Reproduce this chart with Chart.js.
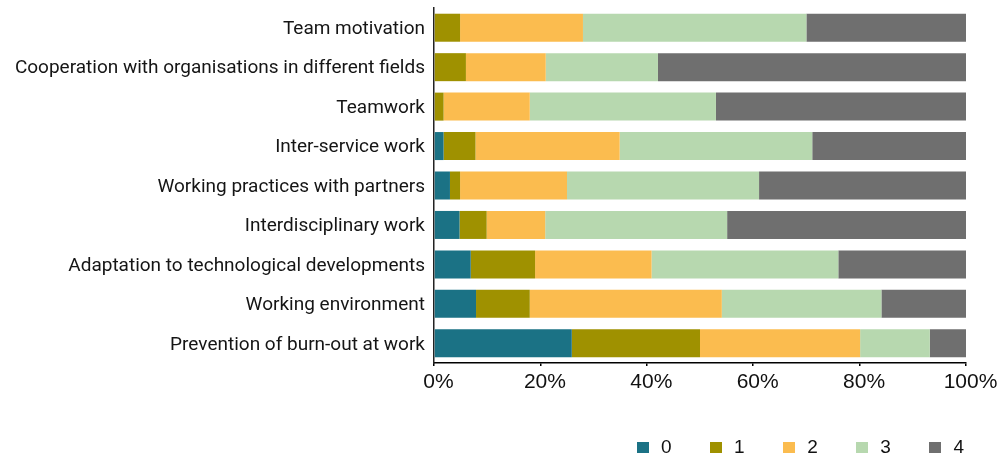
<!DOCTYPE html>
<html><head><meta charset="utf-8">
<script src="https://cdn.jsdelivr.net/npm/chart.js@4/dist/chart.umd.min.js"></script>
<style>
html,body{margin:0;padding:0;background:#fff;}
#wrap{position:relative;width:1005px;height:454px;overflow:hidden;}
#legend{position:absolute;left:0;top:0;width:1005px;height:454px;pointer-events:none;font-family:"Liberation Sans",Arial,sans-serif;font-size:19px;line-height:19px;color:#111;}
.sw{position:absolute;width:12px;height:11px;}
.lt{position:absolute;white-space:nowrap;}
</style></head><body>
<div id="wrap"><canvas id="c" width="1005" height="454"></canvas><div id="legend"></div></div>
<script>
const categories = [
  'Team motivation',
  'Cooperation with organisations in different fields',
  'Teamwork',
  'Inter-service work',
  'Working practices with partners',
  'Interdisciplinary work',
  'Adaptation to technological developments',
  'Working environment',
  'Prevention of burn-out at work'
];
const seriesNames = ['0', '1', '2', '3', '4'];
const values0 = [0, 0, 0, 1.8, 3.0, 4.8, 6.9, 7.9, 25.9];
const values1 = [4.9, 6.0, 1.8, 6.0, 1.9, 5.1, 12.1, 10.1, 24.1];
const values2 = [23.1, 15.0, 16.2, 27.1, 20.1, 11.0, 21.9, 36.1, 30.1];
const values3 = [42.0, 21.1, 35.0, 36.2, 36.1, 34.2, 35.1, 30.0, 13.1];
const values4 = [30.0, 57.9, 47.0, 28.9, 38.9, 44.9, 24.0, 15.9, 6.8];
const xTicks = [0, 20, 40, 60, 80, 100];
const colors = ['#1b7285', '#9f9100', '#fbbc4f', '#b7d8af', '#6f6f6f'];

const seriesValues = [values0, values1, values2, values3, values4];
const datasets = seriesNames.map((n, i) => ({
  label: n,
  data: seriesValues[i],
  backgroundColor: colors[i],
  borderWidth: 0,
  barPercentage: 0.71,
  categoryPercentage: 1.0
}));

new Chart(document.getElementById('c'), {
  type: 'bar',
  data: { labels: categories, datasets },
  options: {
    indexAxis: 'y',
    responsive: false,
    animation: false,
    devicePixelRatio: 1,
    layout: { padding: { left: 0, right: 39, top: 8, bottom: 60 } },
    plugins: { legend: { display: false }, tooltip: { enabled: false } },
    scales: {
      x: {
        stacked: true, min: 0, max: 100,
        afterBuildTicks: (s) => { s.ticks = xTicks.map(v => ({ value: v })); },
        afterFit: (s) => { s.height = 31; s.paddingLeft = 0; s.paddingRight = 0; },
        ticks: { callback: v => v + '%', color: '#111', padding: 4, labelOffset: 4.5,
          font: { family: '"Liberation Sans", Arial, sans-serif', size: 21 } },
        grid: { drawOnChartArea: false, drawTicks: true, tickLength: 3, color: '#000', lineWidth: 1.5 },
        border: { display: true, color: '#000', width: 1.5 }
      },
      y: {
        stacked: true,
        afterFit: (s) => { s.width = 434; s.paddingTop = 0; s.paddingBottom = 0; },
        ticks: { color: '#151515', padding: 9, labelOffset: 1.5,
          font: { family: 'Roboto, sans-serif', size: 19 } },
        grid: { display: false, drawTicks: false },
        border: { display: true, color: '#222', width: 1.5 }
      }
    }
  }
});

const lg = document.getElementById('legend');
seriesNames.forEach((n, i) => {
  const sw = document.createElement('div');
  sw.className = 'sw';
  sw.style.left = (637 + i * 73.1) + 'px';
  sw.style.top = '442px';
  sw.style.background = colors[i];
  lg.appendChild(sw);
  const t = document.createElement('span');
  t.className = 'lt';
  t.style.left = (661 + i * 73.1) + 'px';
  t.style.top = '437px';
  t.textContent = n;
  lg.appendChild(t);
});
</script>
</body></html>
